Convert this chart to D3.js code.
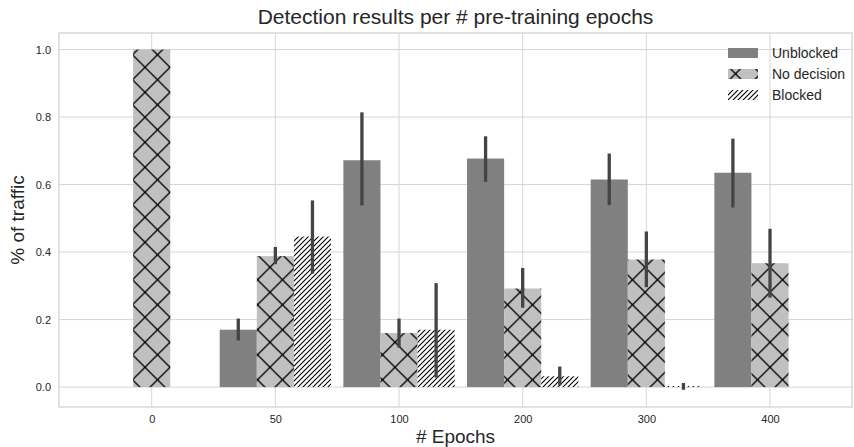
<!DOCTYPE html>
<html>
<head>
<meta charset="utf-8">
<script src="https://cdn.jsdelivr.net/npm/d3@7"></script>
<style>
  body { margin: 0; background: #fff; }
  text { font-family: "Liberation Sans", Arial, sans-serif; fill: #262626; }
</style>
</head>
<body>
<svg id="chart" width="854" height="447"></svg>
<script>
// epochs on the x axis
var categories = ["0", "50", "100", "200", "300", "400"];
var seriesNames = ["Unblocked", "No decision", "Blocked"];

// mean share of traffic per epoch count
var unblocked  = [0, 0.170, 0.672, 0.677, 0.615, 0.635];
var noDecision = [1.0, 0.388, 0.160, 0.292, 0.378, 0.367];
var blocked    = [0, 0.446, 0.170, 0.032, 0.003, 0];

// error bar ends (null = nothing drawn)
var unblockedLo  = [null, 0.138, 0.538, 0.608, 0.539, 0.532];
var unblockedHi  = [null, 0.203, 0.814, 0.743, 0.692, 0.736];
var noDecisionLo = [null, 0.364, 0.117, 0.235, 0.296, 0.265];
var noDecisionHi = [null, 0.415, 0.203, 0.353, 0.461, 0.469];
var blockedLo    = [null, 0.336, 0.028, 0.005, -0.008, null];
var blockedHi    = [null, 0.553, 0.308, 0.061, 0.012, null];

var yTicks = [0, 0.2, 0.4, 0.6, 0.8, 1.0];

// plot area (window.top is reserved, so use prefixed names)
var pLeft = 59, pRight = 852, pTop = 33, pBottom = 407;

var svg = d3.select("#chart");

// hatch patterns
var defs = svg.append("defs");
var cross = defs.append("pattern")
    .attr("id", "hatchX")
    .attr("patternUnits", "userSpaceOnUse")
    .attr("x", 20).attr("y", 17.3)
    .attr("width", 25).attr("height", 25);
cross.append("rect").attr("width", 25).attr("height", 25).attr("fill", "#c0c0c0");
cross.append("path")
    .attr("d", "M0,0L25,25M0,25L25,0")
    .attr("stroke", "#000").attr("stroke-width", 1.3);

var s = 5;
var diag = defs.append("pattern")
    .attr("id", "hatchDiag")
    .attr("patternUnits", "userSpaceOnUse")
    .attr("width", s).attr("height", s);
diag.append("rect").attr("width", s).attr("height", s).attr("fill", "#fff");
diag.append("path")
    .attr("d", "M-1," + (s + 1) + "L" + (s + 1) + ",-1M-1,1L1,-1M" + (s - 1) + "," + (s + 1) + "L" + (s + 1) + "," + (s - 1))
    .attr("stroke", "#000").attr("stroke-width", 1.1);

var fills = ["#808080", "url(#hatchX)", "url(#hatchDiag)"];

var x = d3.scalePoint()
    .domain(categories)
    .range([151.7, 770]);
var step = x.step();
var bw = step * 0.3;

var y = d3.scaleLinear()
    .domain([-0.059, 1.049])
    .range([pBottom, pTop]);

// grid
svg.append("g")
    .selectAll("line")
    .data(yTicks)
    .join("line")
    .attr("x1", pLeft).attr("x2", pRight)
    .attr("y1", d => y(d)).attr("y2", d => y(d))
    .attr("stroke", "#d6d6d6").attr("stroke-width", 1);
svg.append("g")
    .selectAll("line")
    .data(categories)
    .join("line")
    .attr("x1", d => x(d)).attr("x2", d => x(d))
    .attr("y1", pTop).attr("y2", pBottom)
    .attr("stroke", "#d6d6d6").attr("stroke-width", 1);

// frame
svg.append("rect")
    .attr("x", pLeft).attr("y", pTop)
    .attr("width", pRight - pLeft).attr("height", pBottom - pTop)
    .attr("fill", "none").attr("stroke", "#d0d0d0").attr("stroke-width", 1.25);

// bars
var series = [unblocked, noDecision, blocked];
var lows = [unblockedLo, noDecisionLo, blockedLo];
var highs = [unblockedHi, noDecisionHi, blockedHi];

series.forEach(function (vals, i) {
    svg.append("g")
        .selectAll("rect")
        .data(vals)
        .join("rect")
        .attr("x", (d, j) => x(categories[j]) + (i - 1.5) * bw)
        .attr("width", bw)
        .attr("y", d => y(d))
        .attr("height", d => y(0) - y(d))
        .attr("fill", fills[i]);
});

// error bars
series.forEach(function (vals, i) {
    svg.append("g")
        .selectAll("line")
        .data(vals.map((d, j) => ({ j: j, lo: lows[i][j], hi: highs[i][j] })).filter(d => d.lo !== null))
        .join("line")
        .attr("x1", d => x(categories[d.j]) + (i - 1) * bw)
        .attr("x2", d => x(categories[d.j]) + (i - 1) * bw)
        .attr("y1", d => y(d.lo))
        .attr("y2", d => y(d.hi))
        .attr("stroke", "#444").attr("stroke-width", 3.3);
});

// axes
var xAxis = svg.append("g")
    .attr("transform", "translate(0," + pBottom + ")")
    .call(d3.axisBottom(x).tickSize(0).tickPadding(8));
xAxis.select(".domain").remove();
xAxis.selectAll("text").attr("font-size", 11).attr("fill", "#333");

var yAxis = svg.append("g")
    .attr("transform", "translate(" + pLeft + ",0)")
    .call(d3.axisLeft(y).tickValues(yTicks).tickFormat(d3.format(".1f")).tickSize(0).tickPadding(8));
yAxis.select(".domain").remove();
yAxis.selectAll("text").attr("font-size", 11).attr("fill", "#333");

// title and labels
svg.append("text")
    .attr("x", (pLeft + pRight) / 2).attr("y", 24)
    .attr("text-anchor", "middle")
    .attr("font-size", 21)
    .text("Detection results per # pre-training epochs");

svg.append("text")
    .attr("x", (pLeft + pRight) / 2).attr("y", 443)
    .attr("text-anchor", "middle")
    .attr("font-size", 19)
    .text("# Epochs");

svg.append("text")
    .attr("transform", "translate(24," + ((pTop + pBottom) / 2) + ") rotate(-90)")
    .attr("text-anchor", "middle")
    .attr("font-size", 19)
    .text("% of traffic");

// legend
var legend = svg.append("g")
    .selectAll("g")
    .data(seriesNames)
    .join("g")
    .attr("transform", (d, i) => "translate(728," + (48 + i * 21) + ")");
legend.append("rect")
    .attr("width", 30).attr("height", 10)
    .attr("fill", (d, i) => fills[i]);
legend.append("text")
    .attr("x", 44).attr("y", 10)
    .attr("font-size", 14)
    .text(d => d);
</script>
</body>
</html>
